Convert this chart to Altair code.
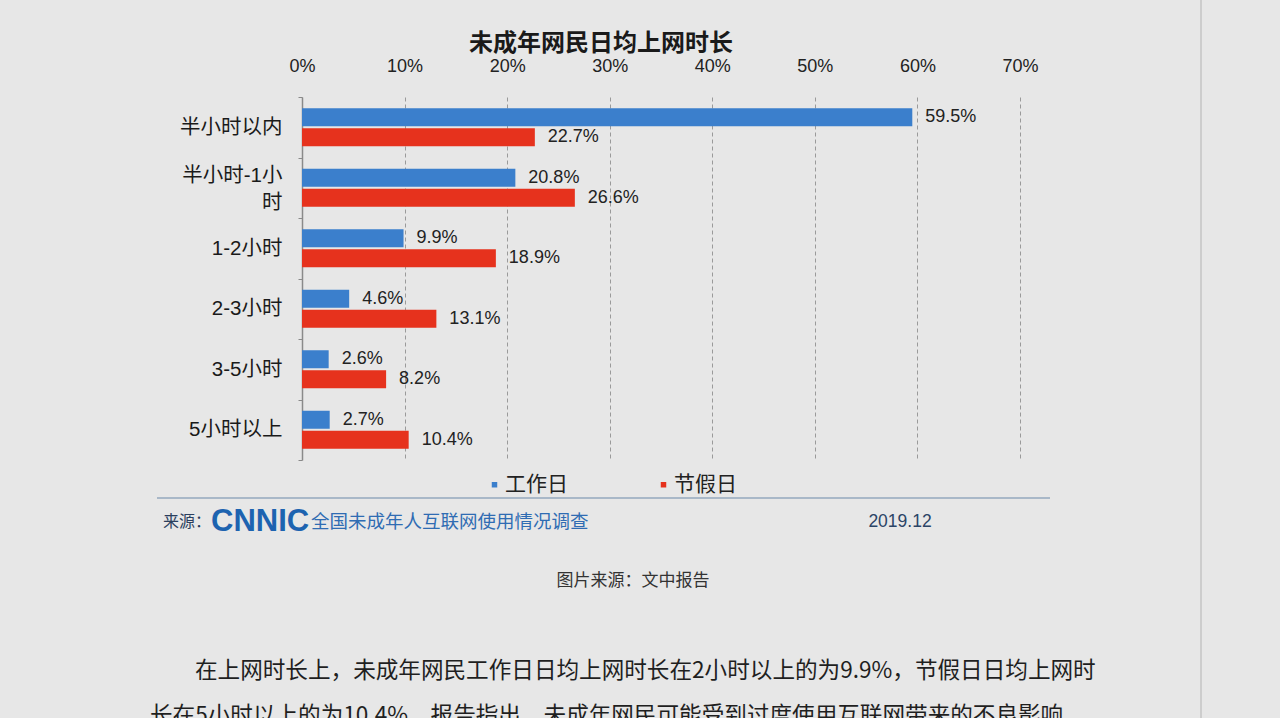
import altair as alt
import pandas as pd

# ---- data ----
categories = ["半小时以内", "半小时-1小时", "1-2小时", "2-3小时", "3-5小时", "5小时以上"]
series = ["工作日", "节假日"]
workday = [59.5, 20.8, 9.9, 4.6, 2.6, 2.7]
holiday = [22.7, 26.6, 18.9, 13.1, 8.2, 10.4]
x_ticks = [0, 0.1, 0.2, 0.3, 0.4, 0.5, 0.6, 0.7]

chart_title = "未成年网民日均上网时长"
source_label = "来源："
source_logo = "CNNIC"
source_name = "全国未成年人互联网使用情况调查"
source_date = "2019.12"
caption = "图片来源：文中报告"
para_line1 = "在上网时长上，未成年网民工作日日均上网时长在2小时以上的为9.9%，节假日日均上网时"
para_line2 = "长在5小时以上的为10.4%，报告指出，未成年网民可能受到过度使用互联网带来的不良影响"

rows = []
for c, w, h in zip(categories, workday, holiday):
    rows.append({"cat": c, "series": series[0], "value": w / 100})
    rows.append({"cat": c, "series": series[1], "value": h / 100})
df = pd.DataFrame(rows)

BLUE = "#3b7fcc"
RED = "#e6321d"
CJK = "Noto Sans CJK SC"
LAT = "Liberation Sans, Noto Sans CJK SC"

wrap_expr = (
    "datum.value == '半小时-1小时' ? ['半小时-1小', '时\u3000\u3000\u2002'] : datum.value"
)

y_enc = alt.Y(
    "cat:N",
    sort=categories,
    scale=alt.Scale(domain=categories, paddingInner=0, paddingOuter=0),
    axis=alt.Axis(
        title=None,
        orient="left",
        domainColor="#8a8a8a",
        domainWidth=1.5,
        tickColor="#8a8a8a",
        tickSize=4,
        tickBand="extent",
        labelFont=LAT,
        labelFontSize=20.5,
        labelColor="#1a1a1a",
        labelPadding=16,
        labelLineHeight=27,
        labelLimit=300,
        labelExpr=wrap_expr,
        labelOffset={"condition": {"test": "datum.value == '半小时-1小时'", "value": -12}, "value": 0},
    ),
)
yoff_enc = alt.YOffset(
    "series:N",
    sort=series,
    scale=alt.Scale(domain=series, paddingInner=0.1, paddingOuter=0.5625),
)
x_enc = alt.X(
    "value:Q",
    scale=alt.Scale(domain=[0, 0.7], nice=False),
    axis=alt.Axis(
        title=None,
        orient="top",
        format=".0%",
        values=x_ticks,
        domain=False,
        ticks=False,
        labelFlush=False,
        labelFont=LAT,
        labelFontSize=18,
        labelColor="#222222",
        labelPadding=22,
        grid=True,
        gridDash=[4, 3],
        gridColor="#9a9a9a",
        gridWidth=1,
    ),
)

bars = alt.Chart(df).mark_bar().encode(
    y=y_enc,
    yOffset=yoff_enc,
    x=x_enc,
    color=alt.Color(
        "series:N",
        sort=series,
        scale=alt.Scale(domain=series, range=[BLUE, RED]),
        legend=alt.Legend(
            title=None,
            orient="none",
            direction="horizontal",
            legendX=182,
            legendY=377,
            symbolType="square",
            symbolSize=30,
            symbolStrokeWidth=0,
            labelFont=CJK,
            labelFontSize=21,
            labelColor="#222222",
            labelOffset=0,
            columnPadding=85,
            padding=0,
        ),
    ),
)

labels = alt.Chart(df).mark_text(
    align="left", baseline="middle", dx=13, font=LAT, fontSize=18, color="#222222"
).encode(
    y=alt.Y("cat:N", sort=categories),
    yOffset=alt.YOffset("series:N", sort=series),
    x="value:Q",
    text=alt.Text("value:Q", format=".1%"),
)


def txt(s, x, y, size, color="#222222", font=CJK, weight="normal", align="left"):
    return alt.Chart(pd.DataFrame({"t": [s]})).mark_text(
        align=align, baseline="middle", font=font, fontSize=size,
        fontWeight=weight, color=color
    ).encode(text="t:N", x=alt.value(x), y=alt.value(y))


OX, OY = 302, 97  # plot origin in page pixels

title_t = txt(chart_title, 601 - OX, 44 - OY, 24, "#1a1a1a", CJK, "bold", "center")
sep = alt.Chart(pd.DataFrame({"a": [0]})).mark_rule(color="#a9b8c8", strokeWidth=2).encode(
    x=alt.value(157 - OX), x2=alt.value(1050 - OX), y=alt.value(498 - OY)
)
src1 = txt(source_label, 163 - OX, 522 - OY, 16, "#2b3f5e")
src2 = txt(source_logo, 211 - OX, 522 - OY, 31, "#1d63b0", "Liberation Sans", "bold")
src3 = txt(source_name, 311 - OX, 522 - OY, 18.5, "#2f6cb3")
src4 = txt(source_date, 900 - OX, 522 - OY, 17.5, "#2b4466", "Liberation Sans", "normal", "center")
cap = txt(caption, 633 - OX, 581 - OY, 17, "#333333", CJK, "normal", "center")
p1 = txt(para_line1, 195 - OX, 671 - OY, 22.6, "#1f1f1f")
p2 = txt(para_line2, 150 - OX, 716 - OY, 22.6, "#1f1f1f")
vline = alt.Chart(pd.DataFrame({"a": [0]})).mark_rule(color="#cdcdcd", strokeWidth=2).encode(
    x=alt.value(1201 - OX), y=alt.value(-OY), y2=alt.value(718 - OY)
)

chart = alt.layer(
    bars, labels, title_t, sep, src1, src2, src3, src4, cap, p1, p2, vline
).properties(
    width=718,
    height=363,
    autosize=alt.AutoSizeParams(type="none"),
    padding={"left": OX, "top": OY, "right": 1280 - OX - 718, "bottom": 718 - OY - 363},
    background="#e7e7e7",
).configure_view(stroke=None)

chart.save("out.html", embed_options={"renderer": "svg", "actions": False})
